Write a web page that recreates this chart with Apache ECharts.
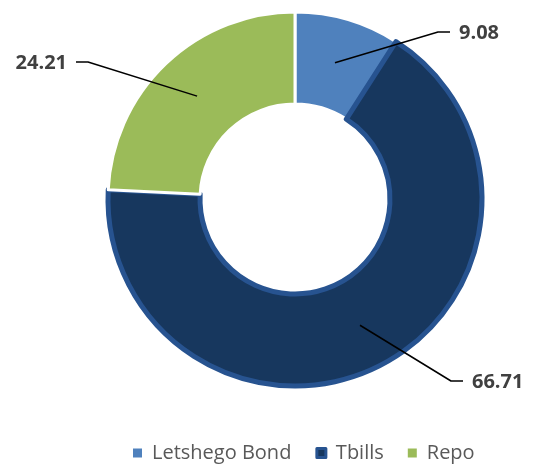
<!DOCTYPE html>
<html>
<head>
<meta charset="utf-8">
<script src="https://cdn.jsdelivr.net/npm/echarts@6/dist/echarts.min.js"></script>
<style>
html,body{margin:0;padding:0;background:#fff;}
#main{width:534px;height:464px;}
</style>
</head>
<body>
<div id="main"></div>
<script>
var categories = ['Letshego Bond', 'Tbills', 'Repo'];
var values = [9.08, 66.71, 24.21];
var labelTexts = ['9.08', '66.71', '24.21'];
var colors = ['#4F81BD', '#17375E', '#9BBB59'];

var W = 534, H = 464;
var CX = 295, CY = 199, R0 = 95, R1 = 187;
var total = values.reduce(function(a, b){ return a + b; }, 0);
var midAngles = [];
(function(){
  var acc = 0;
  for (var i = 0; i < values.length; i++) {
    midAngles.push((acc + values[i] / 2) / total * Math.PI * 2);
    acc += values[i];
  }
})();

// label placement (annotation layout): [x, y, align]
var labelPlace = [
  [459, 33, 'left'],
  [472, 382, 'left'],
  [67, 63, 'right']
];

function leaderPoints(i){
  var a = midAngles[i];
  var rm = (R0 + R1) / 2 + 1;
  var anchor = [CX + rm * Math.sin(a), CY - rm * Math.cos(a)];
  var p = labelPlace[i];
  var dir = p[2] === 'left' ? -1 : 1;
  return [anchor, [p[0] + dir * 21, p[1] - 1], [p[0] + dir * 9, p[1] - 1]];
}

var chart = echarts.init(document.getElementById('main'));
var ringData = categories.map(function(name, i){
  var item = {
    name: name,
    value: values[i],
    itemStyle: { color: colors[i], borderColor: '#ffffff', borderWidth: 3 }
  };
  if (name === 'Tbills') {
    item.itemStyle.borderColor = '#275390';
    item.itemStyle.borderWidth = 5;
  }
  return item;
});

var lineSeries = categories.map(function(n, i){
  return {
    type: 'line',
    name: 'leader' + i,
    xAxisIndex: 0,
    yAxisIndex: 0,
    z: 10,
    silent: true,
    symbol: 'none',
    animation: false,
    lineStyle: { color: '#000000', width: 1.5 },
    data: leaderPoints(i)
  };
});

chart.setOption({
  animation: false,
  grid: { left: 0, right: 0, top: 0, bottom: 0 },
  xAxis: { type: 'value', min: 0, max: W, show: false },
  yAxis: { type: 'value', min: 0, max: H, inverse: true, show: false },
  legend: {
    top: 438,
    left: 128,
    itemWidth: 9,
    itemHeight: 9,
    itemGap: 24,
    icon: 'rect',
    selectedMode: false,
    textStyle: { fontFamily: 'Open Sans', fontSize: 20, color: '#595959', padding: [0, 0, 0, 5] },
    data: categories.map(function(n, i){
      return n === 'Tbills'
        ? { name: n, itemStyle: { color: colors[i], borderColor: '#275390', borderWidth: 3 } }
        : { name: n, itemStyle: { color: colors[i], borderWidth: 0 } };
    })
  },
  series: [{
    type: 'pie',
    name: 'ring',
    center: [CX, CY],
    radius: [R0, R1],
    startAngle: 90,
    clockwise: true,
    avoidLabelOverlap: false,
    emphasis: { disabled: true },
    data: ringData,
    label: {
      show: true,
      position: 'outside',
      formatter: function(p){ return labelTexts[p.dataIndex]; },
      fontFamily: 'Open Sans',
      fontWeight: 'bold',
      fontSize: 20,
      color: '#404040'
    },
    labelLine: { show: false },
    labelLayout: function(params){
      var p = labelPlace[params.dataIndex];
      return { x: p[0], y: p[1], align: p[2], verticalAlign: 'middle' };
    }
  }].concat(lineSeries)
});
</script>
</body>
</html>
